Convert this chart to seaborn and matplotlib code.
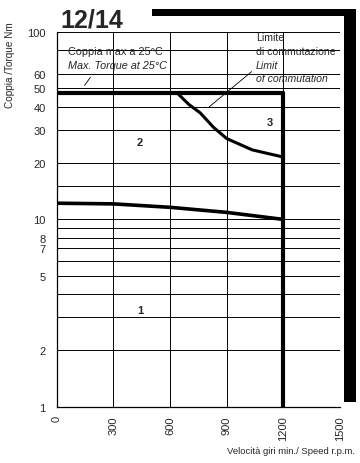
import matplotlib
matplotlib.use("Agg")
import matplotlib.pyplot as plt
import seaborn as sns
import pandas as pd
from matplotlib.patches import Rectangle

sns.set_style("white")
plt.rcParams['font.family'] = ['Liberation Sans', 'DejaVu Sans']

# ---- data ----
max_torque_rpm = [0, 1200]
max_torque_nm = [47, 47]
limit_rpm = [1200, 1200]
limit_nm = [47, 1]
commut_rpm = [640, 700, 760, 830, 900, 1035, 1200]
commut_nm = [47, 41, 37, 31, 27, 23.5, 21.5]
cont_rpm = [0, 300, 600, 900, 1200]
cont_nm = [12.2, 12.1, 11.6, 10.9, 10.0]
x_ticks = [0, 300, 600, 900, 1200, 1500]
y_grid = [1, 2, 3, 4, 5, 6, 7, 8, 9, 10, 15, 20, 30, 40, 50, 60, 80, 100]
y_labels = {1: "1", 2: "2", 5: "5", 7: "7", 8: "8", 10: "10", 20: "20",
            30: "30", 40: "40", 50: "50", 60: "60", 100: "100"}
zones = ["1", "2", "3"]
zone_rpm = [440, 440, 1130]
zone_nm = [3.3, 26, 33]

fig = plt.figure(figsize=(3.6, 4.64), dpi=100)
ax = fig.add_axes([0.158, 0.121, 0.786, 0.808])
ax.set_yscale("log")
ax.set_xlim(0, 1500)
ax.set_ylim(1, 100)

def draw(xs, ys, lw):
    sns.lineplot(data=pd.DataFrame({"x": xs, "y": ys}), x="x", y="y", ax=ax,
                 color="black", lw=lw, sort=False, estimator=None)

draw(max_torque_rpm, max_torque_nm, 3.0)
draw(limit_rpm, limit_nm, 3.0)
draw(commut_rpm, commut_nm, 2.2)
draw(cont_rpm, cont_nm, 2.6)

ax.set_xticks(x_ticks)
ax.set_xticklabels([str(v) for v in x_ticks], rotation=90, fontsize=8)
ax.set_yticks(y_grid)
ax.set_yticklabels([y_labels.get(v, "") for v in y_grid], fontsize=8)
ax.minorticks_off()
ax.grid(True, which="major", color="black", lw=0.7)
ax.tick_params(axis="y", length=5, width=0.7, pad=3, color="black")
ax.tick_params(axis="x", length=0, pad=6)
for s in ["top", "right"]:
    ax.spines[s].set_visible(False)
for s in ["left", "bottom"]:
    ax.spines[s].set_color("black")
    ax.spines[s].set_linewidth(0.9)
ax.set_xlabel("")
ax.set_ylabel("")

fig.text(355/360, 1 - 452/464, "Velocità giri min./ Speed r.p.m.", fontsize=6.8,
         ha="right", va="center")
fig.text(10/360, 1 - 65/464, "Coppia /Torque Nm", fontsize=7.2, rotation=90,
         ha="center", va="center")

for t, xv, yv in zip(zones, zone_rpm, zone_nm):
    ax.text(xv, yv, t, fontsize=8, fontweight="bold", ha="center", va="center")

ax.text(0.04, 0.949, "Coppia max a 25°C", transform=ax.transAxes, fontsize=7.8, va="center")
ax.text(0.04, 0.912, "Max. Torque at 25°C", transform=ax.transAxes, fontsize=7.8,
        style="italic", va="center")
ax.annotate("", xy=(0.092, 0.851), xytext=(0.124, 0.885), xycoords="axes fraction",
            textcoords="axes fraction",
            arrowprops=dict(arrowstyle="-", color="black", lw=0.6))
ax.text(0.703, 0.987, "Limite", transform=ax.transAxes, fontsize=7.6, va="center")
ax.text(0.703, 0.949, "di commutazione", transform=ax.transAxes, fontsize=7.6, va="center")
ax.text(0.703, 0.912, "Limit", transform=ax.transAxes, fontsize=7.6, va="center",
        style="italic")
ax.text(0.703, 0.877, "of commutation", transform=ax.transAxes, fontsize=7.6, va="center",
        style="italic")
ax.annotate("", xy=(0.53, 0.795), xytext=(0.696, 0.899), xycoords="axes fraction",
            textcoords="axes fraction",
            arrowprops=dict(arrowstyle="-", color="black", lw=0.6))

fig.text(60/360, 1 - 21/464, "12/14", fontsize=18, fontweight="bold", va="center")
# L-shaped frame decoration (figure pixel coords converted to fractions)
fig.add_artist(Rectangle((152/360, 1 - 17/464), (356 - 152)/360, 7/464,
                         transform=fig.transFigure, color="black", lw=0))
fig.add_artist(Rectangle((344/360, 1 - 403/464), 12/360, (403 - 10)/464,
                         transform=fig.transFigure, color="black", lw=0))

fig.savefig("out.png", dpi=100)
